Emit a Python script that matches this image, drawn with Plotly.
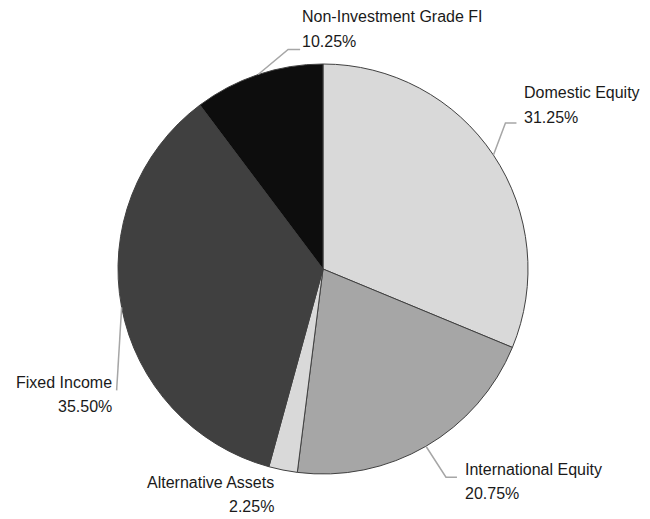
import math
import plotly.graph_objects as go

# ---- data ----
categories = ["Domestic Equity", "International Equity", "Alternative Assets",
              "Fixed Income", "Non-Investment Grade FI"]
values = [31.25, 20.75, 2.25, 35.50, 10.25]
pct_labels = ["31.25%", "20.75%", "2.25%", "35.50%", "10.25%"]
colors = ["#d9d9d9", "#a6a6a6", "#d9d9d9", "#404040", "#0d0d0d"]

# ---- layout (pixels) ----
W, H = 650, 519
CX, CY, R = 323, 269, 205
FONT = "Liberation Sans, Arial, sans-serif"
FS = 16
LINE_GAP = 24

# label styling per slice: elbow offset / end of leader line (relative to edge point),
# text anchor (x, centre of first line)
label_style = {
    "Domestic Equity":         dict(elbow=(12, -32), hlen=11, text=(522, 93), xanchor="left"),
    "International Equity":    dict(elbow=(20, 31), hlen=11, text=(463, 469), xanchor="left"),
    "Alternative Assets":      dict(elbow=None, hlen=0, text=(276, 482), xanchor="right"),
    "Fixed Income":            dict(elbow=(-5, 83), hlen=0, text=(114, 382), xanchor="right"),
    "Non-Investment Grade FI": dict(elbow=(30, -25), hlen=12, text=(300, 17), xanchor="left"),
}

def px(x, y):
    return x / W, 1 - y / H

fig = go.Figure()
fig.add_trace(go.Pie(
    labels=categories, values=values, sort=False, direction="clockwise",
    rotation=0, textinfo="none", hoverinfo="label+percent",
    marker=dict(colors=colors, line=dict(color="#404040", width=1)),
    domain=dict(x=[(CX - R) / W, (CX + R) / W], y=[1 - (CY + R) / H, 1 - (CY - R) / H]),
    showlegend=False,
))

total = sum(values)
cum = 0.0
shapes, annotations = [], []
for cat, v, pl in zip(categories, values, pct_labels):
    mid = (cum + v / 2) / total * 2 * math.pi
    cum += v
    ex, ey = CX + R * math.sin(mid), CY - R * math.cos(mid)
    st = label_style[cat]
    if st["elbow"] is not None:
        bx, by = ex + st["elbow"][0], ey + st["elbow"][1]
        pts = [(ex, ey), (bx, by)]
        if st["hlen"]:
            pts.append((bx + st["hlen"], by))
        path = "M " + " L ".join("%f %f" % px(x, y) for x, y in pts)
        shapes.append(dict(type="path", xref="paper", yref="paper", path=path,
                           line=dict(color="#a6a6a6", width=1.5)))
    for i, line_text in enumerate([cat, pl]):
        tx, ty = px(st["text"][0], st["text"][1] + i * LINE_GAP)
        annotations.append(dict(x=tx, y=ty, xref="paper", yref="paper",
                                text=line_text, showarrow=False,
                                xanchor=st["xanchor"], yanchor="middle",
                                font=dict(family=FONT, size=FS, color="#1a1a1a")))

fig.update_layout(
    width=W, height=H, margin=dict(l=0, r=0, t=0, b=0),
    paper_bgcolor="white", plot_bgcolor="white",
    shapes=shapes, annotations=annotations,
)
fig.write_html("out.html", config={"displayModeBar": False},
               post_script="document.body.style.margin='0';")
